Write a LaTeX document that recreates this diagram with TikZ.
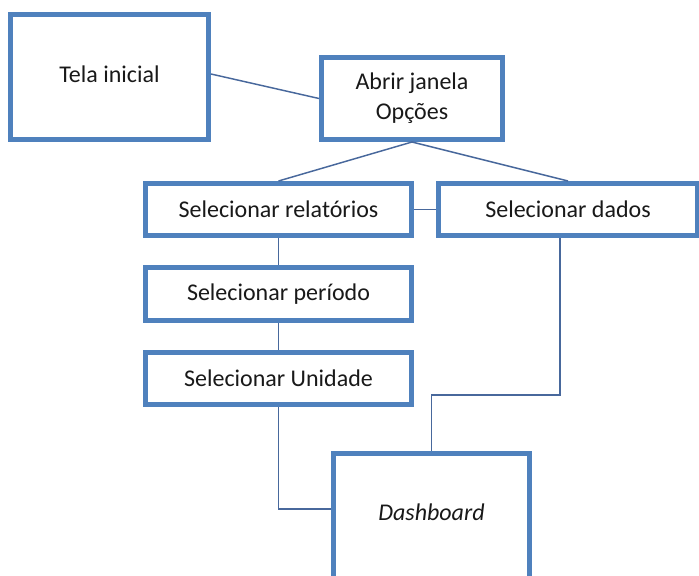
\documentclass[tikz,border=0pt]{standalone}
\usepackage{fontspec}
\setmainfont{Carlito}
\usetikzlibrary{calc}
\definecolor{boxblue}{RGB}{79,129,189}
\definecolor{linkblue}{RGB}{72,104,156}
\begin{document}
\begin{tikzpicture}[x=0.75pt,y=-0.75pt,
  box/.style={draw=boxblue, line width=3.75pt, fill=white, inner sep=0pt,
    align=center, font=\fontsize{18}{22.5}\selectfont, text=black!90},
  link/.style={draw=linkblue, line width=1.1pt}]
\useasboundingbox (0,0) rectangle (699,575);
\clip (0,0) rectangle (699,575);

% boxes
\node[box, minimum width=148.5pt, minimum height=93.75pt] (tela) at (109.5,77)
  {\raisebox{4.5pt}{Tela inicial}};
\node[box, minimum width=135.75pt, minimum height=61.5pt] (abrir) at (412,98.5)
  {Abrir janela\\Opções};
\node[box, minimum width=199.5pt, minimum height=39pt] (rel) at (278.5,209.5)
  {Selecionar relatórios};
\node[box, minimum width=194.25pt, minimum height=39pt] (dados) at (568,209.5)
  {Selecionar dados};
\node[box, minimum width=199.5pt, minimum height=39.75pt] (per) at (278.5,294)
  {Selecionar período};
\node[box, minimum width=199.5pt, minimum height=39pt] (uni) at (278.5,378.5)
  {Selecionar Unidade};
\node[box, minimum width=147pt, minimum height=94.1pt] (dash) at (431.5,516.25)
  {\raisebox{5.4pt}{\itshape Dashboard}};

% connectors
\draw[link] ([yshift=2.25pt]tela.east) -- (abrir.west);
\draw[link] (abrir.south) -- (rel.north);
\draw[link] (abrir.south) -- (dados.north);
\draw[link] (rel.east) -- (dados.west);
\draw[link] (rel.south) -- (per.north);
\draw[link] (per.south) -- (uni.north);
\draw[link] (uni.south) |- ([yshift=5.4pt]dash.west);
\draw[link] ([xshift=-6pt]dados.south) -- ++(0,157) -| (dash.north);
\end{tikzpicture}
\end{document}
